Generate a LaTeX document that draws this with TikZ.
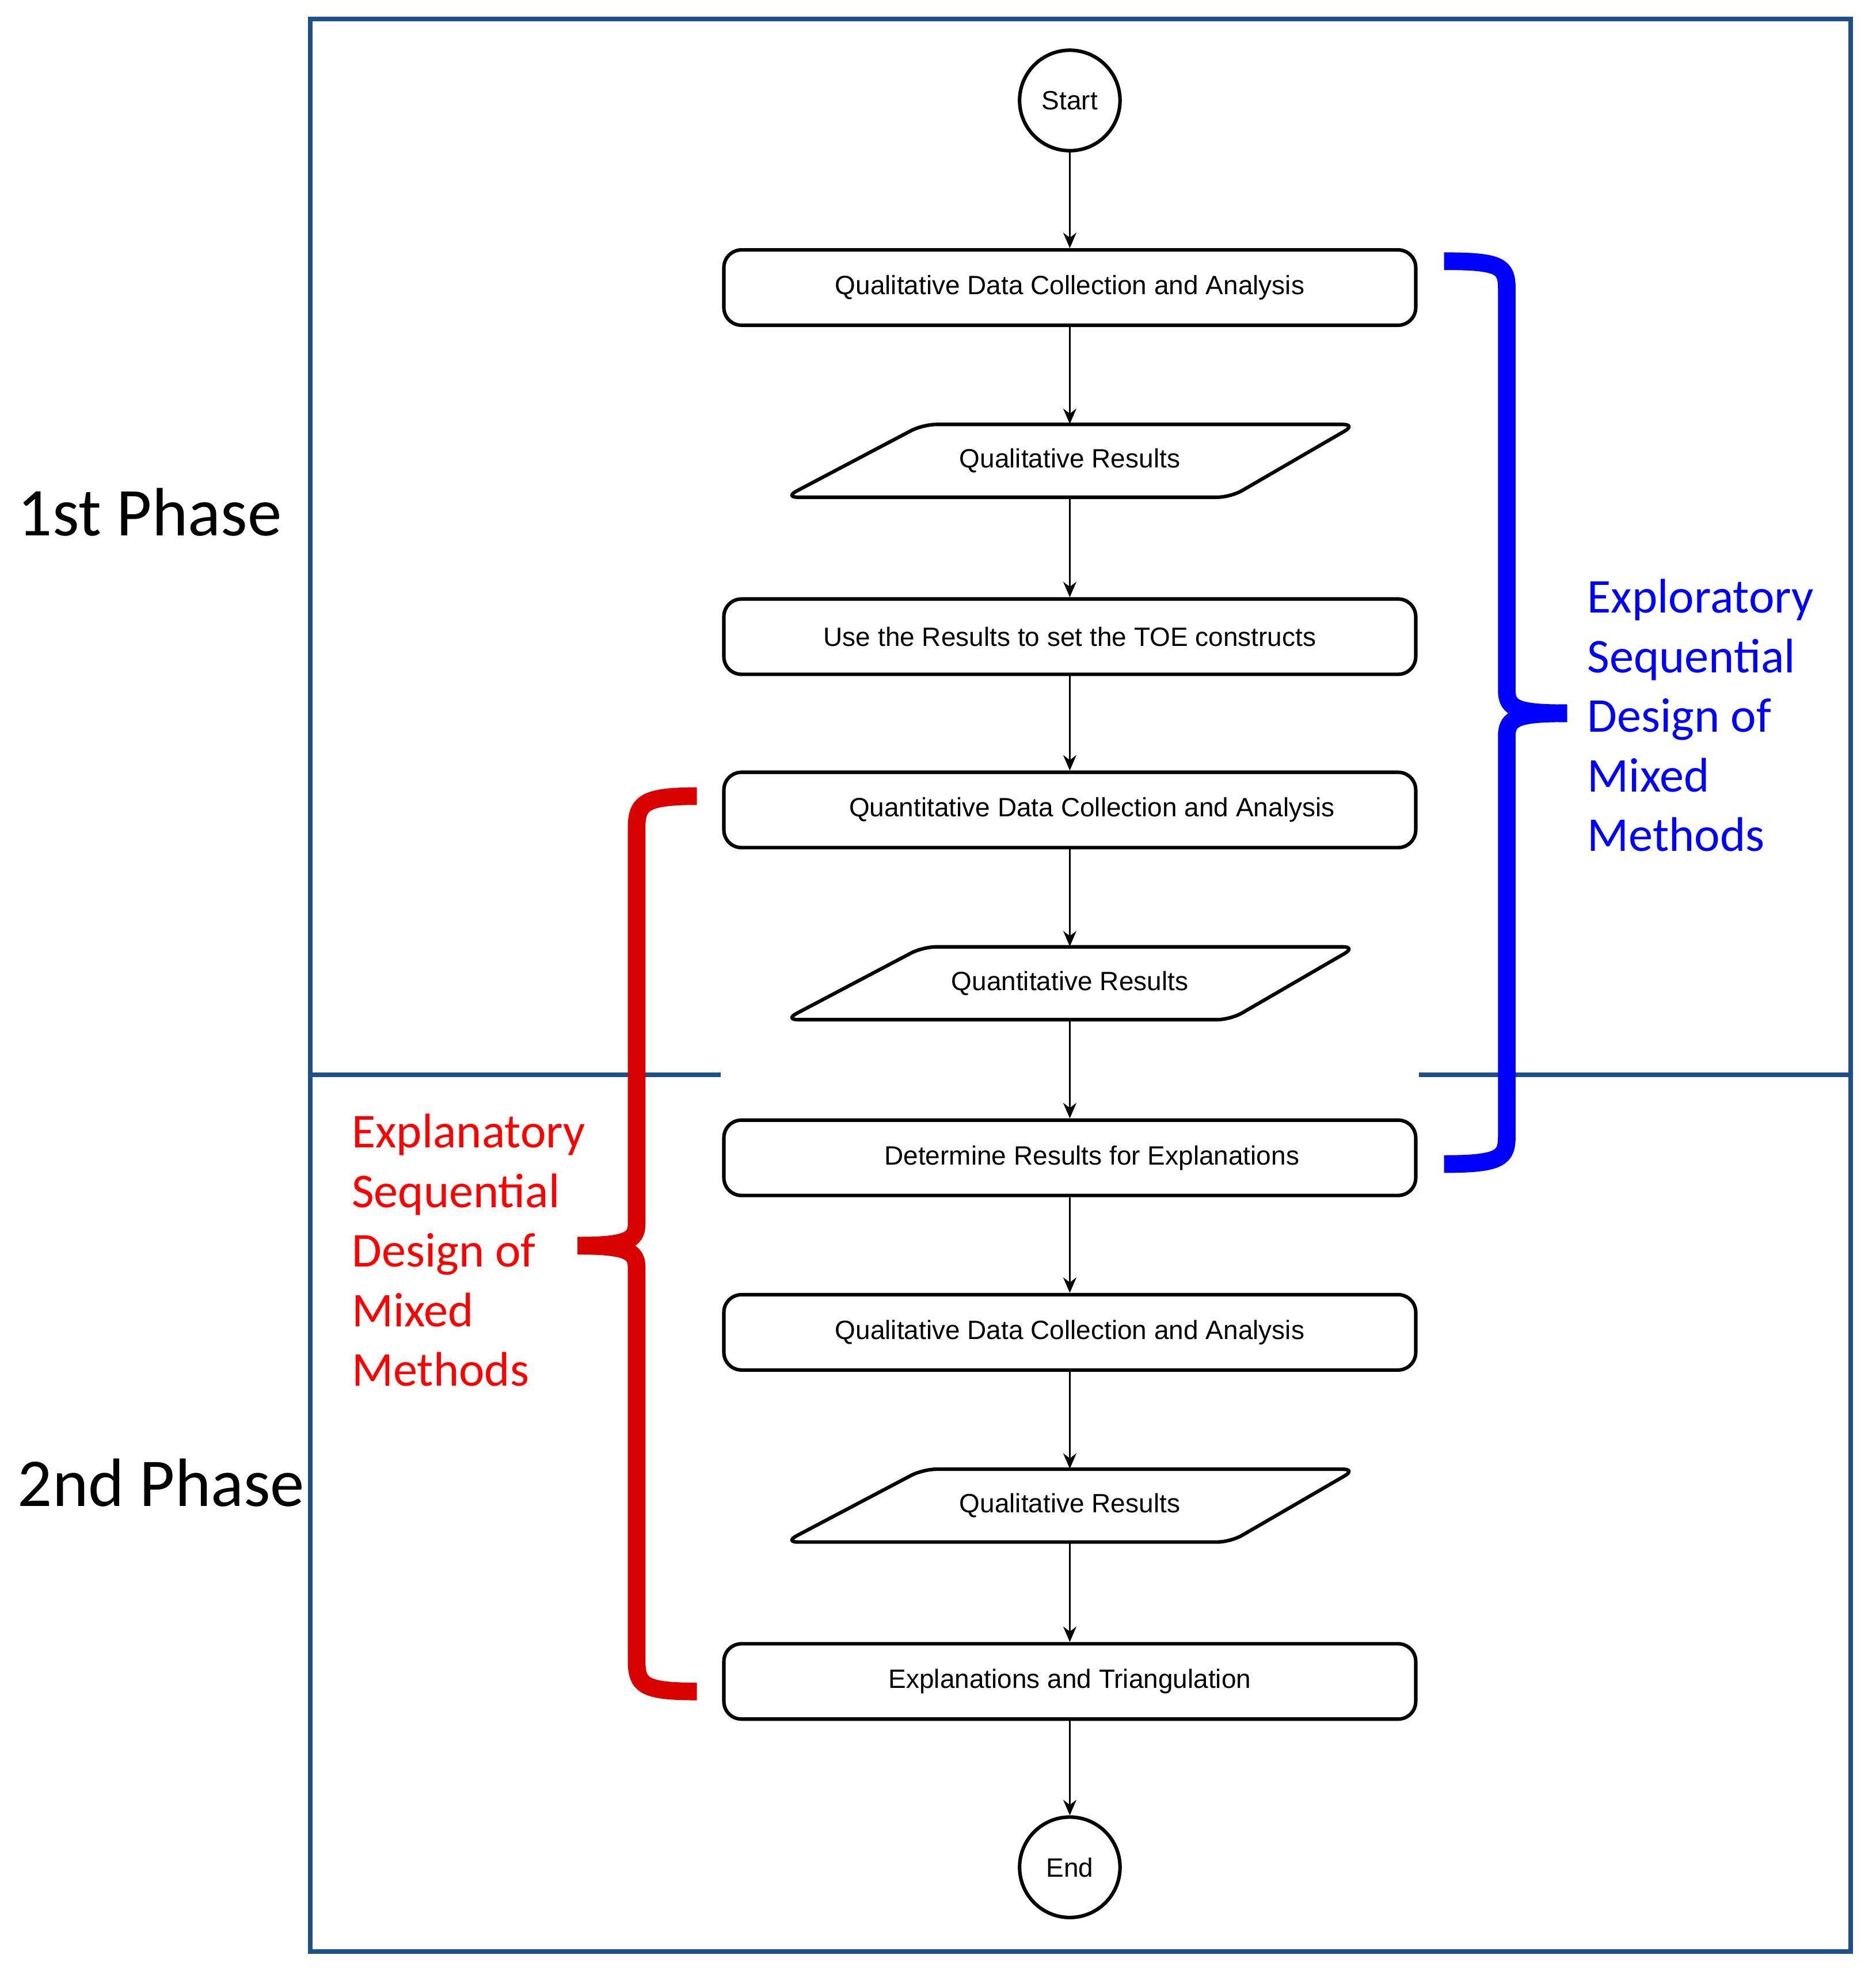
\documentclass[tikz,border=0pt]{standalone}
\usepackage{fontspec}
\setmainfont{Liberation Sans}
\newfontfamily\carlitofont{Carlito}
\usetikzlibrary{arrows.meta}
\begin{document}
\begin{tikzpicture}[x=0.02cm,y=-0.02cm,
 box/.style={draw,line width=1.6pt,rounded corners=8pt,minimum width=551*0.02cm,minimum height=60*0.02cm,font=\fontsize{12}{14}\selectfont},
 para/.style={minimum width=400*0.02cm,minimum height=58*0.02cm,font=\fontsize{12}{14}\selectfont},
 circ/.style={draw,circle,line width=1.6pt,minimum size=80*0.02cm,font=\fontsize{12}{14}\selectfont},
 arr/.style={-{Stealth[length=7pt,width=6pt]},line width=0.8pt},
 frame/.style={draw={rgb,255:red,31;green,78;blue,140},line width=2.2pt},
 lbl/.style={font=\carlitofont\fontsize{22}{27}\selectfont,align=left,anchor=north west}]
\useasboundingbox (0,0) rectangle (1494,1572);
\draw[frame] (247,15) rectangle (1474,1554);
\draw[frame] (247,856) -- (574,856);
\draw[frame] (1130,856) -- (1474,856);
\node[circ] (s) at (852,80) {Start};
\node[box] (b1) at (852,229) {Qualitative Data Collection and Analysis};
\node[para] (p1) at (852,367) {Qualitative Results};
\node[box] (b2) at (852,507) {Use the Results to set the TOE constructs};
\node[box] (b3) at (852,645) {\hspace*{20pt}Quantitative Data Collection and Analysis};
\node[para] (p2) at (852,783) {Quantitative Results};
\node[box] (b4) at (852,922) {\hspace*{20pt}Determine Results for Explanations};
\node[box] (b5) at (852,1061) {Qualitative Data Collection and Analysis};
\node[para] (p3) at (852,1199) {Qualitative Results};
\node[box] (b6) at (852,1339) {Explanations and Triangulation};
\node[circ] (e) at (852,1487) {End};
\foreach \y in {367,783,1199}
  \draw[line width=1.6pt,rounded corners=6pt] (625,\y+29) -- (735,\y-29) -- (1080,\y-29) -- (980,\y+29) -- cycle;
\draw[arr] (s) -- (b1);
\draw[arr] (b1) -- (p1);
\draw[arr] (p1) -- (b2);
\draw[arr] (b2) -- (b3);
\draw[arr] (b3) -- (p2);
\draw[arr] (p2) -- (b4);
\draw[arr] (b4) -- (b5);
\draw[arr] (b5) -- (p3);
\draw[arr] (p3) -- (b6);
\draw[arr] (b6) -- (e);
\draw[blue,line width=8pt] (1150,208) .. controls (1195,208) and (1200,212) .. (1200,230) -- (1200,550) .. controls (1200,565) and (1210,568) .. (1248,568);
\draw[blue,line width=8pt] (1150,927) .. controls (1195,927) and (1200,922) .. (1200,905) -- (1200,586) .. controls (1200,571) and (1210,568) .. (1248,568);
\draw[red!85!black,line width=8pt] (555,634) .. controls (512,634) and (507,640) .. (507,660) -- (507,975) .. controls (507,988) and (498,992) .. (460,992);
\draw[red!85!black,line width=8pt] (555,1347) .. controls (512,1347) and (507,1342) .. (507,1322) -- (507,1009) .. controls (507,996) and (498,992) .. (460,992);
\node[font=\carlitofont\fontsize{31}{36}\selectfont,anchor=west] (ph1) at (8,408) {1st Phase};
\node[font=\carlitofont\fontsize{31}{36}\selectfont,anchor=west] (ph2) at (8,1181) {2nd Phase};
\node[lbl,blue] (bl) at (1258,455) {Exploratory\\Sequential\\Design of\\Mixed\\Methods};
\node[lbl,red] (rl) at (274,881) {Explanatory\\Sequential\\Design of\\Mixed\\Methods};
\end{tikzpicture}
\end{document}
